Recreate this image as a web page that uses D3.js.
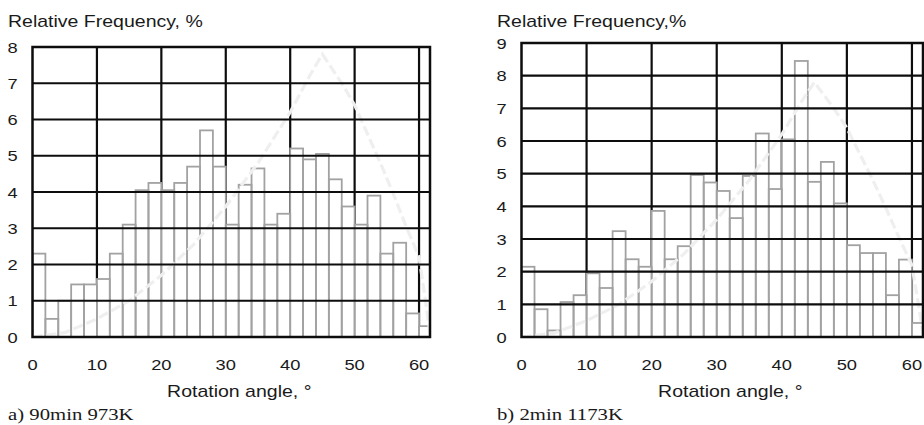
<!DOCTYPE html>
<html>
<head>
<meta charset="utf-8">
<script src="https://cdn.jsdelivr.net/npm/d3@7"></script>
<style>
  body { margin: 0; background: #fff; }
  svg { display: block; }
</style>
</head>
<body>
<div id="chart"></div>
<script>
// bin start angles (2 degree bins)
const binStarts = [0, 2, 4, 6, 8, 10, 12, 14, 16, 18, 20, 22, 24, 26, 28, 30,
    32, 34, 36, 38, 40, 42, 44, 46, 48, 50, 52, 54, 56, 58, 60]

// a) 90min 973K
const freq90min = [2.3, 0.5, 1.0, 1.45, 1.45, 1.6, 2.3, 3.1, 4.05, 4.25, 4.05,
    4.25, 4.7, 5.7, 4.7, 3.1, 4.2, 4.65, 3.1, 3.4, 5.2, 4.9, 5.05, 4.35, 3.6,
    3.1, 3.9, 2.3, 2.6, 0.65, 0.3]

// b) 2min 1173K
const freq2min = [2.15, 0.85, 0.2, 1.07, 1.28, 1.95, 1.5, 3.24, 2.38, 2.15,
    3.86, 2.38, 2.78, 4.96, 4.73, 4.47, 3.64, 4.93, 6.23, 4.53, 6.05, 8.45,
    4.75, 5.36, 4.09, 2.81, 2.57, 2.57, 1.28, 2.37, 0.43]

// random (Mackenzie) distribution, dashed curve
const randomAngles = [0, 5, 10, 15, 20, 25, 30, 35, 40, 43, 45, 48, 50, 52,
    54, 56, 58, 60, 61, 61.7]
const randomFreq = [0, 0.12, 0.5, 1.0, 1.7, 2.55, 3.6, 4.8, 6.2, 7.2, 7.8,
    7.0, 6.4, 5.6, 4.8, 3.95, 3.05, 2.2, 1.0, 0.1]

const xTicks = [0, 10, 20, 30, 40, 50, 60]

const width = 924, height = 425
const svg = d3.select('#chart').append('svg')
    .attr('width', width)
    .attr('height', height)
    .attr('font-family', 'Liberation Sans, Arial, sans-serif')

svg.append('rect').attr('width', width).attr('height', height).attr('fill', '#fff')

// text in the scan is a bit stretched horizontally
const STRETCH = 1.22

function stretchedText(g, x, y, str, size, anchor, family) {
    return g.append('text')
        .attr('transform', `translate(${x},${y}) scale(${STRETCH},1)`)
        .attr('text-anchor', anchor)
        .attr('font-size', size)
        .attr('font-family', family || null)
        .attr('fill', '#1a1a1a')
        .text(str)
}

function drawPanel(cfg) {
    const g = svg.append('g')
    const x = d3.scaleLinear().domain([0, 61.7]).range([cfg.left, cfg.right])
    const y = d3.scaleLinear().domain([0, cfg.yMax]).range([337, cfg.top])
    const yTicks = d3.range(0, cfg.yMax + 1)
    const binW = 2

    const clipId = 'clip-' + cfg.id
    g.append('clipPath').attr('id', clipId)
        .append('rect')
        .attr('x', cfg.left).attr('y', y(cfg.yMax))
        .attr('width', cfg.right - cfg.left).attr('height', 337 - y(cfg.yMax))

    // vertical grid (hidden below the bars)
    g.append('g').selectAll('line')
        .data(xTicks.filter(d => d > 0))
        .join('line')
        .attr('x1', d => x(d)).attr('x2', d => x(d))
        .attr('y1', y(cfg.yMax)).attr('y2', y(0))
        .attr('stroke', '#0d0d0d').attr('stroke-width', 2.2)

    const bars = binStarts.map((b, i) => ({start: b, value: cfg.values[i]}))

    // bar fills
    const plot = g.append('g').attr('clip-path', `url(#${clipId})`)
    plot.append('g').selectAll('rect')
        .data(bars)
        .join('rect')
        .attr('x', d => x(d.start))
        .attr('y', d => y(d.value))
        .attr('width', d => x(d.start + binW) - x(d.start))
        .attr('height', d => y(0) - y(d.value))
        .attr('fill', '#fff')

    // horizontal grid
    g.append('g').selectAll('line')
        .data(yTicks)
        .join('line')
        .attr('x1', cfg.left).attr('x2', cfg.right)
        .attr('y1', d => y(d)).attr('y2', d => y(d))
        .attr('stroke', '#0d0d0d').attr('stroke-width', 2.2)

    // bar outlines
    plot.append('g').selectAll('rect')
        .data(bars)
        .join('rect')
        .attr('x', d => x(d.start))
        .attr('y', d => y(d.value))
        .attr('width', d => x(d.start + binW) - x(d.start))
        .attr('height', d => y(0) - y(d.value))
        .attr('fill', 'none')
        .attr('stroke', '#a2a2a2')
        .attr('stroke-width', 1.8)

    // random distribution curve
    const line = d3.line()
        .x(d => x(d[0]))
        .y(d => y(d[1]))
    plot.append('path')
        .datum(randomAngles.map((a, i) => [a, randomFreq[i]]))
        .attr('d', line)
        .attr('fill', 'none')
        .attr('stroke', '#efefef')
        .attr('stroke-width', 3.2)
        .attr('stroke-dasharray', '10,4')

    // frame
    g.append('rect')
        .attr('x', cfg.left).attr('y', y(cfg.yMax))
        .attr('width', cfg.right - cfg.left).attr('height', y(0) - y(cfg.yMax))
        .attr('fill', 'none')
        .attr('stroke', '#0d0d0d')
        .attr('stroke-width', 2.5)

    // y tick labels
    yTicks.forEach(t => stretchedText(g, cfg.left - 20, y(t) + 5.5, t, 15, 'middle'))
    // x tick labels
    xTicks.forEach(t => stretchedText(g, x(t), 370, t, 15, 'middle'))

    stretchedText(g, cfg.titleX, 27, cfg.title, 16, 'start')
    stretchedText(g, (cfg.left + cfg.right) / 2 + 8, 397, 'Rotation angle, \u00b0', 16, 'middle')
    stretchedText(g, cfg.titleX, 420, cfg.caption, 17, 'start',
        'Liberation Serif, Times New Roman, serif')
}

drawPanel({
    id: 'a', left: 32.5, right: 430, top: 47, yMax: 8,
    values: freq90min, titleX: 8,
    title: 'Relative Frequency, %', caption: 'a) 90min 973K'
})

drawPanel({
    id: 'b', left: 521.5, right: 923, top: 43, yMax: 9,
    values: freq2min, titleX: 497,
    title: 'Relative Frequency,%', caption: 'b) 2min 1173K'
})
</script>
</body>
</html>
